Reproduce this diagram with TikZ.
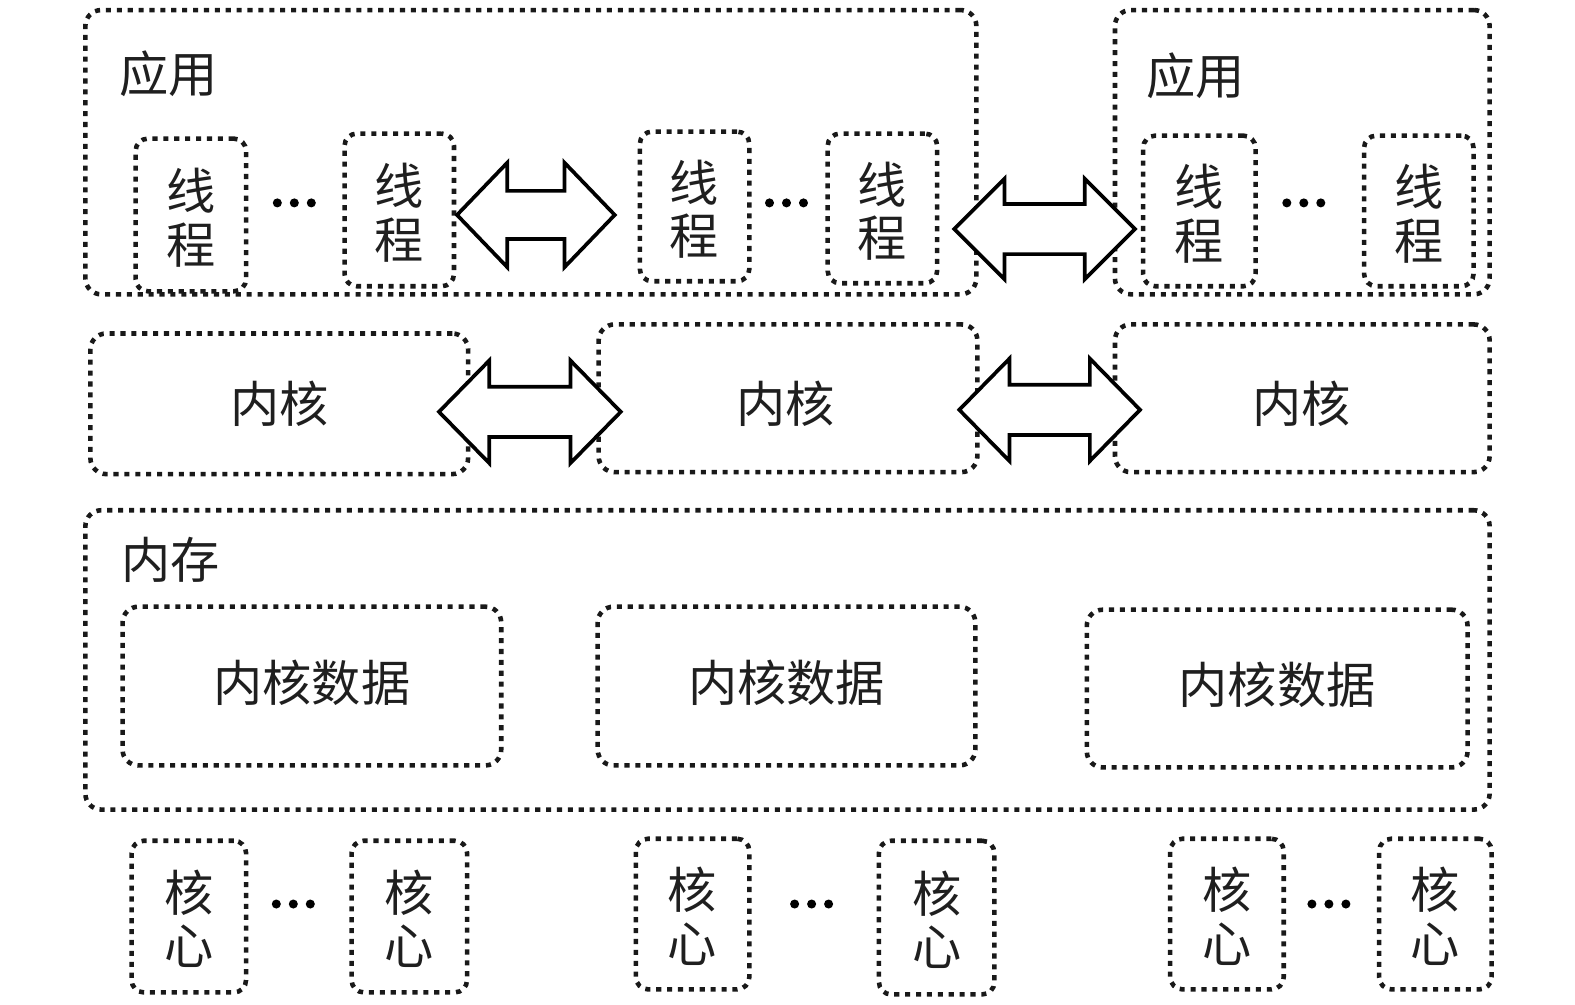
\documentclass[tikz,border=0pt]{standalone}
\usepackage{fontspec}
\newfontfamily\cjk{Noto Sans CJK SC}
\usetikzlibrary{fit}
\begin{document}
\begin{tikzpicture}[x=0.02009cm,y=-0.02009cm,
  dbox/.style={draw=black!90, line width=2.6pt, dash pattern=on 2.9pt off 3.3pt, rounded corners=7pt, inner sep=0pt},
  bigbox/.style={dbox, rounded corners=9pt},
  txt/.style={font=\cjk\fontsize{28}{30.5}\selectfont, text=black!88, inner sep=0pt, align=center},
  dotc/.style={fill=black},
  darrow/.style={draw=black, line width=2.1pt, fill=white, line join=miter}]
\useasboundingbox (0,0) rectangle (1568,1000);
\newcommand{\threedots}[3]{%
  \coordinate (#1) at (#2,#3);
  \fill[dotc] (#1) circle (4.5) ([xshift=-0.34cm]#1) circle (4.5) ([xshift=0.34cm]#1) circle (4.5);}

% application boxes
\node[bigbox, fit={(85,10) (972,293)}] (app1) {};
\node[bigbox, fit={(1110,10) (1483,293)}] (app2) {};
\node[txt] (app1l) at (168,73) {应用};
\node[txt] (app2l) at (1190,75) {应用};

% threads
\node[dbox, fit={(135,138) (245,290)}] (t1) {};
\node[dbox, fit={(343,133) (452,285)}] (t2) {};
\node[dbox, fit={(637,131) (746,280)}] (t3) {};
\node[dbox, fit={(824,133) (933,282)}] (t4) {};
\node[dbox, fit={(1138,135) (1250,285)}] (t5) {};
\node[dbox, fit={(1358,135) (1467,285)}] (t6) {};
\foreach \n in {t1,t2,t3,t4,t5,t6}{
  \node[txt] at ([yshift=-1.7pt]\n.center) {线\\程};
}
\threedots{d1}{293}{202}
\threedots{d2}{783}{202}
\threedots{d3}{1298}{202}

% kernels
\node[bigbox, fit={(90,332) (466,472)}] (k1) {};
\node[bigbox, fit={(596,323) (973,470)}] (k2) {};
\node[bigbox, fit={(1110,323) (1483,470)}] (k3) {};
\node[txt] (k1l) at (278,402) {内核};
\node[txt] (k2l) at (782,402) {内核};
\node[txt] (k3l) at (1296,402) {内核};

% memory
\node[bigbox, fit={(85,508) (1483,806)}] (mem) {};
\node[txt] (meml) at (170,557) {内存};
\node[bigbox, fit={(122,604) (499,762)}] (kd1) {};
\node[bigbox, fit={(595,604) (971,762)}] (kd2) {};
\node[bigbox, fit={(1082,607) (1461,764)}] (kd3) {};
\foreach \n in {kd1,kd2,kd3}{
  \node[txt] at ([yshift=2pt]\n.center) {内核数据};
}

% cores
\node[dbox, fit={(131,837) (245,988)}] (c1) {};
\node[dbox, fit={(350,837) (465,988)}] (c2) {};
\node[dbox, fit={(633,835) (746,985)}] (c3) {};
\node[dbox, fit={(875,837) (990,990)}] (c4) {};
\node[dbox, fit={(1165,835) (1278,985)}] (c5) {};
\node[dbox, fit={(1373,835) (1485,985)}] (c6) {};
\foreach \n in {c1,c2,c3,c4,c5,c6}{
  \node[txt] at ([yshift=-1.2pt]\n.center) {核\\心};
}
\threedots{d4}{292}{900}
\threedots{d5}{808}{900}
\threedots{d6}{1323}{900}

% double arrows: left tip x, right tip x, centre y, head length, shaft half, head half
\newcommand{\dblarrow}[6]{%
  \draw[darrow] (#1,#3) -- (#1+#4,#3-#6) -- (#1+#4,#3-#5) -- (#2-#4,#3-#5) -- (#2-#4,#3-#6)
    -- (#2,#3) -- (#2-#4,#3+#6) -- (#2-#4,#3+#5) -- (#1+#4,#3+#5) -- (#1+#4,#3+#6) -- cycle;}
\dblarrow{455}{612}{214}{50}{24}{52}
\dblarrow{950}{1130}{228}{50}{25}{50}
\dblarrow{437}{618}{410}{50}{25}{51}
\dblarrow{955}{1135}{408}{50}{25}{51}
\end{tikzpicture}
\end{document}
